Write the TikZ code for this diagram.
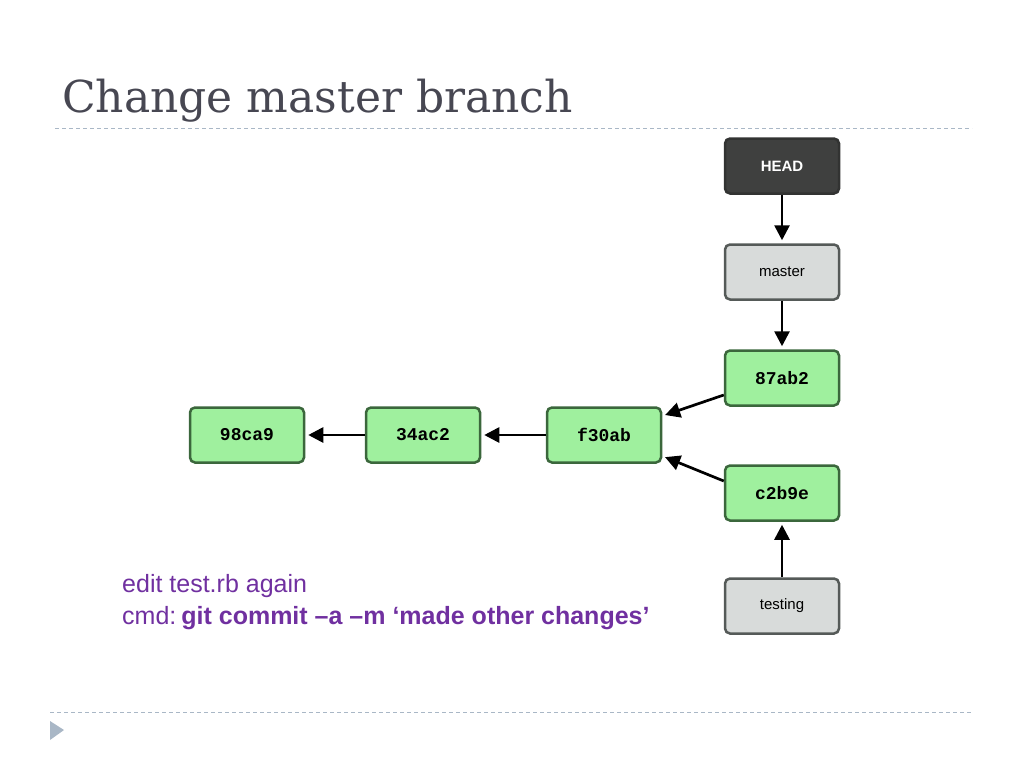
\documentclass[tikz,border=0pt]{standalone}
\usepackage{fontspec}
\setmainfont{DejaVu Serif}
\setsansfont{Liberation Sans}
\setmonofont{Liberation Mono}
\usetikzlibrary{arrows.meta}

\definecolor{titlegray}{HTML}{474752}
\definecolor{rulegray}{HTML}{A9B7C6}
\definecolor{commitfill}{HTML}{9FF09E}
\definecolor{commitline}{HTML}{3B673C}
\definecolor{branchfill}{HTML}{D8DBDA}
\definecolor{branchline}{HTML}{555A58}
\definecolor{headfill}{HTML}{3F403F}
\definecolor{notepurple}{HTML}{7030A0}

\begin{document}
\begin{tikzpicture}[
    x=1pt, y=-1pt,
    box/.style={rounded corners=5pt, line width=2.5pt, minimum width=114pt,
                minimum height=55pt, inner sep=0pt},
    commit/.style={box, fill=commitfill, draw=commitline,
                   font=\ttfamily\bfseries\fontsize{18}{21}\selectfont},
    branch/.style={box, fill=branchfill, draw=branchline,
                   font=\sffamily\fontsize{15}{18}\selectfont},
    headbox/.style={box, fill=headfill, draw=headfill!80!black, text=white,
                    font=\sffamily\bfseries\fontsize{15}{18}\selectfont},
    pointer/.style={-{Triangle[length=15pt,width=15pt]}, line width=2.7pt,
                    shorten >=3pt},
    note/.style={text=notepurple, inner sep=0pt, anchor=base west,
                 font=\sffamily\fontsize{25}{30}\selectfont}
]
    % Page frame
    \useasboundingbox (0,0) rectangle (1024,768);

    % Title and rules
    \node[anchor=base west, inner sep=0pt, text=titlegray,
          font=\fontsize{44}{52}\selectfont] (title) at (62,112) {Change master branch};
    \draw[rulegray, dashed, line width=1pt, dash pattern=on 4pt off 3pt]
        (55,128) -- (972,128);
    \draw[rulegray, dashed, line width=1pt, dash pattern=on 4pt off 3pt]
        (50,712) -- (972,712);
    \fill[rulegray] (50,721) -- (64,730) -- (50,740) -- cycle;

    % Pointers
    \node[headbox] (head) at (782,166) {HEAD};
    \node[branch] (master) at (782,272) {master};
    \node[branch] (testing) at (782,606) {testing};

    % Commits
    \node[commit] (c87ab2) at (782,378) {87ab2};
    \node[commit] (cc2b9e) at (782,493) {c2b9e};
    \node[commit] (cf30ab) at (604,435) {f30ab};
    \node[commit] (c34ac2) at (423,435) {34ac2};
    \node[commit] (c98ca9) at (247,435) {98ca9};

    % Arrows
    \draw[pointer] (head) -- (master);
    \draw[pointer] (master) -- (c87ab2);
    \draw[pointer] (testing) -- (cc2b9e);
    \draw[pointer] ([yshift=-17pt]c87ab2.west) -- ([yshift=19pt]cf30ab.east);
    \draw[pointer] ([yshift=12pt]cc2b9e.west) -- ([yshift=-21pt]cf30ab.east);
    \draw[pointer] (cf30ab) -- (c34ac2);
    \draw[pointer] (c34ac2) -- (c98ca9);

    % Note
    \node[note] (edit) at (122,592) {edit test.rb again};
    \node[note] (cmd) at (122,624) {cmd:\hspace{0.2em}\textbf{git commit –a –m ‘made other changes’}};
\end{tikzpicture}
\end{document}
